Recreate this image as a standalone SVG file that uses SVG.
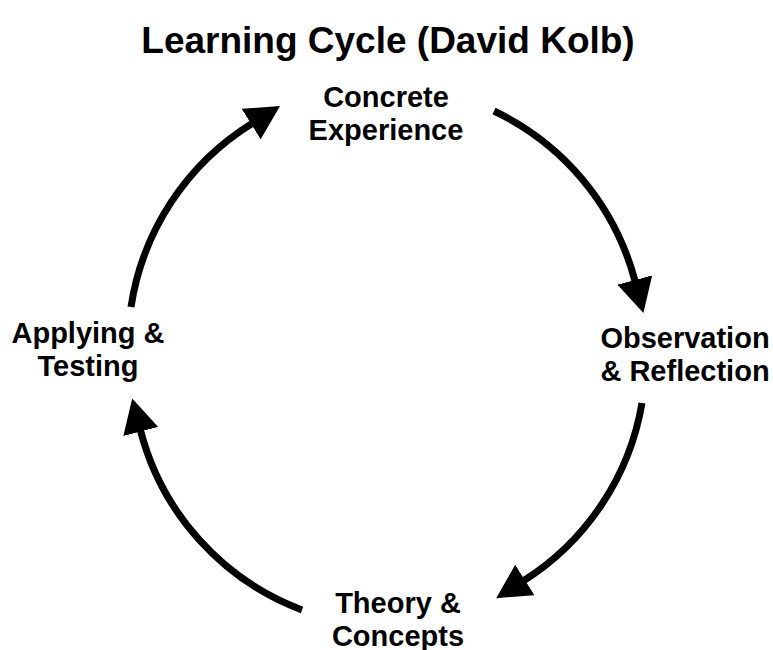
<svg xmlns="http://www.w3.org/2000/svg" width="773" height="650" viewBox="0 0 773 650">
<style>
text{font-family:"Liberation Sans",Arial,sans-serif;font-weight:bold;fill:#000;text-anchor:middle}
.lbl{font-size:29px}
.title{font-size:37px}
.arc{fill:none;stroke:#000;stroke-width:7}
</style>
<defs>
<marker id="ah" markerUnits="userSpaceOnUse" viewBox="0 -18 34 36" markerWidth="34" markerHeight="36" refX="1" refY="0" orient="auto">
<path d="M0,-18 L34,0 L0,18 Z" fill="#000"/>
</marker>
</defs>
<rect width="773" height="650" fill="#fff"/>
<g id="title"><text class="title" x="388" y="53">Learning Cycle (David Kolb)</text></g>
<g id="concrete"><text class="lbl" x="386" y="107">Concrete</text><text class="lbl" x="386" y="140">Experience</text></g>
<g id="observation"><text class="lbl" x="685" y="348">Observation</text><text class="lbl" x="685" y="381">&amp; Reflection</text></g>
<g id="theory"><text class="lbl" x="398" y="613">Theory &amp;</text><text class="lbl" x="398" y="646">Concepts</text></g>
<g id="applying"><text class="lbl" x="88" y="343">Applying &amp;</text><text class="lbl" x="88" y="376">Testing</text></g>
<g id="connectors">
<path class="arc" marker-end="url(#ah)" d="M131,307 A262,262 0 0 1 252,123.5"/>
<path class="arc" marker-end="url(#ah)" d="M494,111 A262,262 0 0 1 635,281"/>
<path class="arc" marker-end="url(#ah)" d="M642,403 A262,262 0 0 1 524,580.5"/>
<path class="arc" marker-end="url(#ah)" d="M302,610 A262,262 0 0 1 140.5,430.5"/>
</g>
</svg>
